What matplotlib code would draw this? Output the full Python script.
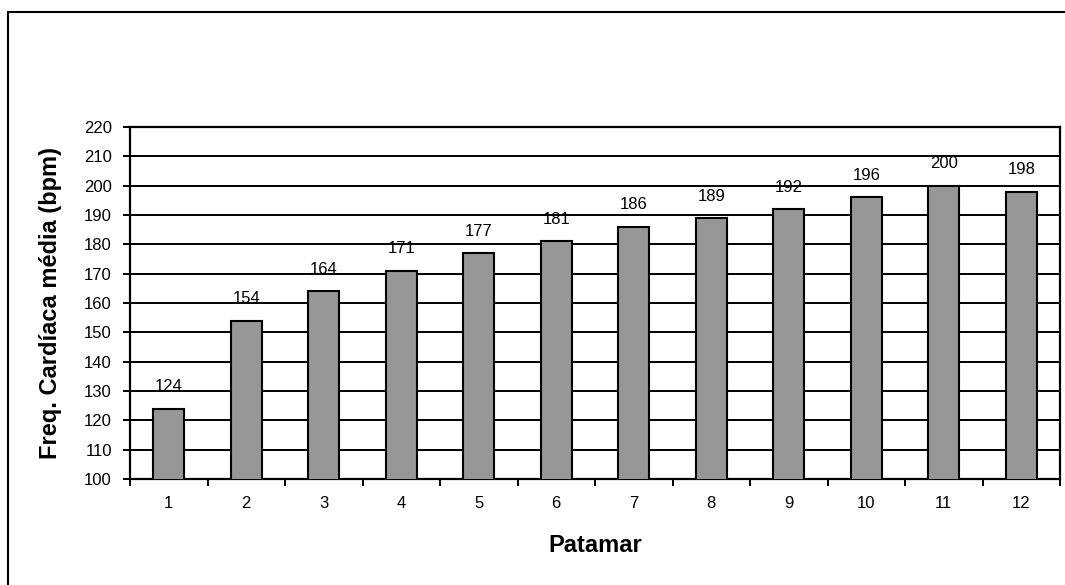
import numpy as np
import matplotlib.pyplot as plt
from matplotlib.patches import Rectangle

# Mean heart rate per stage
patamares = ['1', '2', '3', '4', '5', '6', '7', '8', '9', '10', '11', '12']
freq_media = [124, 154, 164, 171, 177, 181, 186, 189, 192, 196, 200, 198]

plt.rcParams['font.family'] = ['Liberation Sans', 'DejaVu Sans']

fig = plt.figure(figsize=(10.65, 5.85), dpi=100)
W, H = 1065, 585

# Outer frame around the chart area
fig.patches.append(Rectangle((8 / W, -0.05), 1.1, 1 - 12 / H + 0.05,
                             transform=fig.transFigure, fill=False,
                             edgecolor='black', linewidth=1.5))

ax = fig.add_axes([130 / W, 1 - 479 / H, 930 / W, 352 / H])

x = np.arange(len(patamares))
ax.bar(x, freq_media, width=0.4, color='#969696',
       edgecolor='black', linewidth=1.5, zorder=3)

for xi, v in zip(x, freq_media):
    ax.text(xi, v + 4.9, str(v), ha='center', va='bottom', fontsize=12)

ax.set_xlim(-0.5, len(patamares) - 0.5)
ax.set_ylim(100, 220)
ax.set_yticks(np.arange(100, 221, 10))
ax.yaxis.grid(True, color='black', linewidth=1.4, zorder=0)
ax.set_axisbelow(True)

# Category labels centred, tick marks between categories
ax.set_xticks(np.arange(-0.5, len(patamares), 1.0))
ax.set_xticklabels([])
ax.set_xticks(x, minor=True)
ax.set_xticklabels(patamares, minor=True)
ax.tick_params(axis='x', which='minor', length=0, pad=12, labelsize=12)
ax.tick_params(axis='x', which='major', length=5, width=1.4, direction='out')
ax.tick_params(axis='y', length=5, width=1.4, direction='out', labelsize=12, pad=8)

for s in ax.spines.values():
    s.set_linewidth(1.6)
    s.set_color('black')

ax.set_xlabel('Patamar', fontsize=17, fontweight='bold', labelpad=17)
ax.set_ylabel('Freq. Cardíaca média (bpm)', fontsize=17, fontweight='bold', labelpad=16)

fig.savefig('out.png', dpi=100)
